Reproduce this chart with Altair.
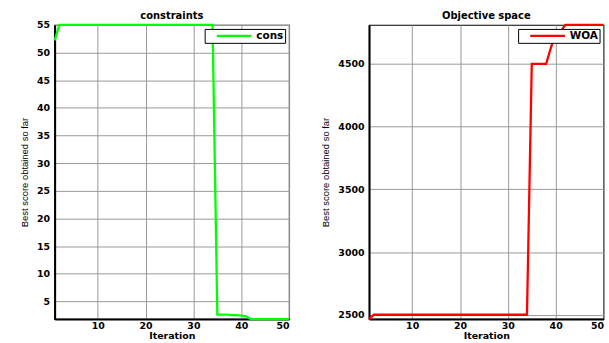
import altair as alt
import pandas as pd

iterations = list(range(1, 51))

cons_values = [52.2] + [55.0] * 33 + [2.6, 2.6, 2.6, 2.5, 2.5, 2.4, 2.3] + [1.8] * 9
woa_values = [2466] + [2500] * 33 + [4500] * 4 + [4630, 4740, 4755] + [4811] * 9

x_ticks = [10, 20, 30, 40, 50]
cons_ticks = [5, 10, 15, 20, 25, 30, 35, 40, 45, 50, 55]
woa_ticks = [2500, 3000, 3500, 4000, 4500]

BOLD = "DejaVu Sans"
THIN = "Liberation Sans"


def panel(values, name, color, title, ydomain, yticks):
    df = pd.DataFrame({"Iteration": iterations, "score": values, "series": name})
    return (
        alt.Chart(df)
        .mark_line(strokeWidth=2.3, clip=False)
        .encode(
            x=alt.X(
                "Iteration:Q",
                scale=alt.Scale(domain=[1, 50], nice=False, zero=False),
                axis=alt.Axis(values=x_ticks, title="Iteration", format="d"),
            ),
            y=alt.Y(
                "score:Q",
                scale=alt.Scale(domain=ydomain, nice=False, zero=False),
                axis=alt.Axis(values=yticks, title="Best score obtained so far", format="d"),
            ),
            color=alt.Color(
                "series:N",
                scale=alt.Scale(domain=[name], range=[color]),
                legend=alt.Legend(
                    orient="top-right",
                    title=None,
                    offset=4,
                    symbolType="M1.2,0H9.2",
                    symbolSize=76,
                    symbolStrokeWidth=2.3,
                    labelOffset=39,
                    labelFont=BOLD,
                    labelFontWeight="bold",
                    labelFontSize=10.5,
                    labelColor="black",
                    strokeColor="black",
                    fillColor="white",
                    padding=1,
                    cornerRadius=0,
                ),
            ),
        )
        .properties(
            width=236,
            height=296,
            title=alt.TitleParams(
                title, font=BOLD, fontSize=10, fontWeight="bold", color="black",
                offset=0.5, dy=1,
            ),
        )
    )


left = panel(cons_values, "cons", "#00ff00", "constraints", [1.8, 55], cons_ticks)
right = panel(woa_values, "WOA", "#ff0000", "Objective space", [2466, 4811], woa_ticks)

chart = (
    alt.hconcat(left, right, spacing=24.5)
    .resolve_scale(color="independent")
    .properties(padding={"left": 18, "top": 8, "right": 0, "bottom": 0}, background="white")
    .configure_view(stroke="black", strokeWidth=1.2)
    .configure_axis(
        labelFont=BOLD,
        labelFontWeight="bold",
        labelFontSize=9.5,
        labelColor="black",
        labelPadding=5,
        titleFont=BOLD,
        titleFontWeight="bold",
        titleFontSize=9.5,
        titleColor="black",
        domainColor="black",
        domainWidth=2,
        ticks=False,
        gridColor="#999999",
        gridWidth=1,
        gridOpacity=1,
    )
    .configure_axisY(titleFont=THIN, titleFontWeight="normal", titleFontSize=9.5, titlePadding=7.5)
    .configure_axisX(titlePadding=0, labelPadding=2)
)

chart.save("out.html", embed_options={"renderer": "svg", "actions": False})
